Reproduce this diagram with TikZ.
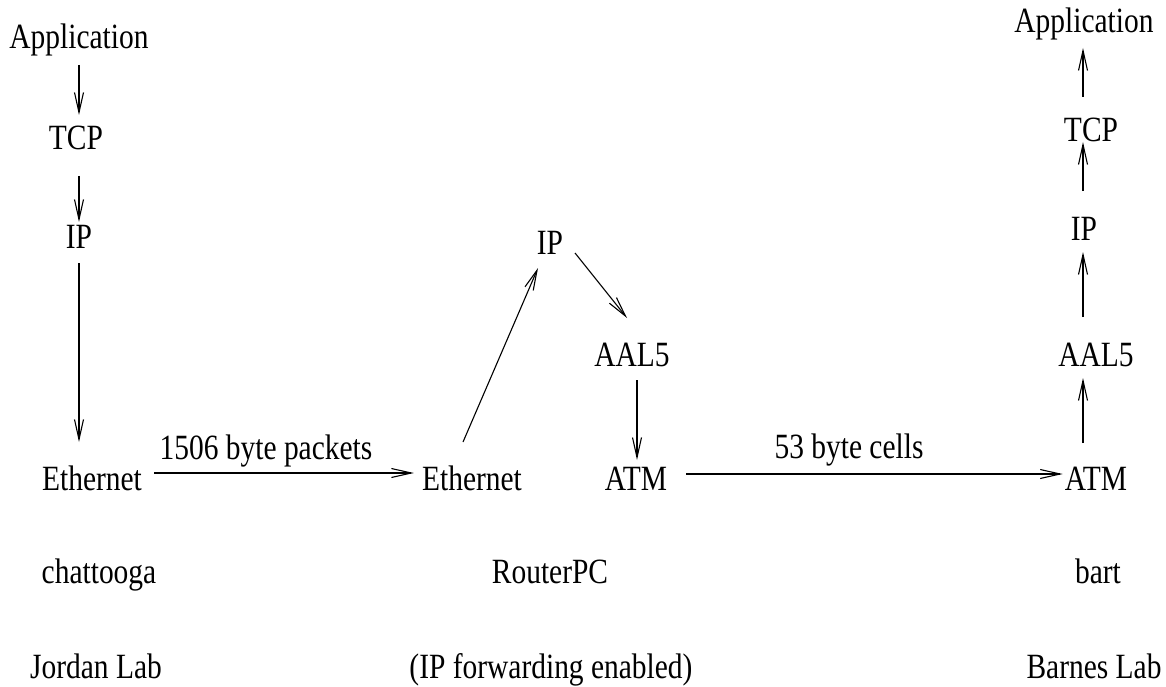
\documentclass[tikz,border=0pt]{standalone}
\usepackage{fontspec}
\setmainfont{Liberation Serif}[FakeStretch=0.83]
\usetikzlibrary{arrows.meta,calc}
\begin{document}
\begin{tikzpicture}[x=1pt,y=-1pt,
  lbl/.style={anchor=base,inner sep=0pt,font=\fontsize{35.5}{40}\selectfont},
  arr/.style={line width=1.1pt,-{Straight Barb[length=20pt,width=9pt,line width=1.1pt]}}]
\useasboundingbox (0,0) rectangle (1166,687);
% left column
\node[lbl] (app1) at (79,49) {Application};
\node[lbl] (tcp1) at (76,150) {TCP};
\node[lbl] (ip1) at (79,248) {IP};
\node[lbl] (eth1) at (92,490) {Ethernet};
\node[lbl] (host1) at (99,583) {chattooga};
\node[lbl] (lab1) at (96,678) {Jordan Lab};
% middle column
\node[lbl] (eth2) at (472,490) {Ethernet};
\node[lbl] (ip2) at (550,254) {IP};
\node[lbl] (aal2) at (632,366) {AAL5};
\node[lbl] (atm2) at (636,490) {ATM};
\node[lbl] (host2) at (550,583) {RouterPC};
\node[lbl] (lab2) at (551,678) {(IP forwarding enabled)};
% right column
\node[lbl] (app3) at (1084,33) {Application};
\node[lbl] (tcp3) at (1091,142) {TCP};
\node[lbl] (ip3) at (1084,240) {IP};
\node[lbl] (aal3) at (1096,366) {AAL5};
\node[lbl] (atm3) at (1096,490) {ATM};
\node[lbl] (host3) at (1098,583) {bart};
\node[lbl] (lab3) at (1094,678) {Barnes Lab};
% link labels
\node[lbl] (pk) at (266,459) {1506 byte packets};
\node[lbl] (cl) at (849,458) {53 byte cells};
% left arrows
\draw[arr] ($(app1.base)+(0,16)$) -- ($(tcp1.base)+(3,-35)$);
\draw[arr] ($(tcp1.base)+(3,26)$) -- ($(ip1.base)+(0,-26)$);
\draw[arr] ($(ip1.base)+(0,15)$) -- ($(eth1.base)+(-13,-48)$);
% links
\draw[arr] ($(eth1.base east)+(12,-17)$) -- ($(eth2.base west)+(-8,-17)$);
\draw[arr] ($(atm2.base east)+(19,-16)$) -- ($(atm3.base west)+(-2,-16)$);
% middle arrows
\draw[arr] ($(eth2.base)+(-9,-48)$) -- ($(ip2.base)+(-12,14)$);
\draw[arr] ($(ip2.base)+(25,-1)$) -- ($(aal2.base)+(-5,-48)$);
\draw[arr] ($(aal2.base)+(5,14)$) -- ($(atm2.base)+(1,-30)$);
% right arrows
\draw[arr] ($(atm3.base)+(-13,-47)$) -- ($(aal3.base)+(-13,12)$);
\draw[arr] ($(aal3.base)+(-13,-49)$) -- ($(ip3.base)+(-1,12)$);
\draw[arr] ($(ip3.base)+(-1,-49)$) -- ($(tcp3.base)+(-8,0)$);
\draw[arr] ($(tcp3.base)+(-8,-45)$) -- ($(app3.base)+(-1,15)$);
\end{tikzpicture}
\end{document}
